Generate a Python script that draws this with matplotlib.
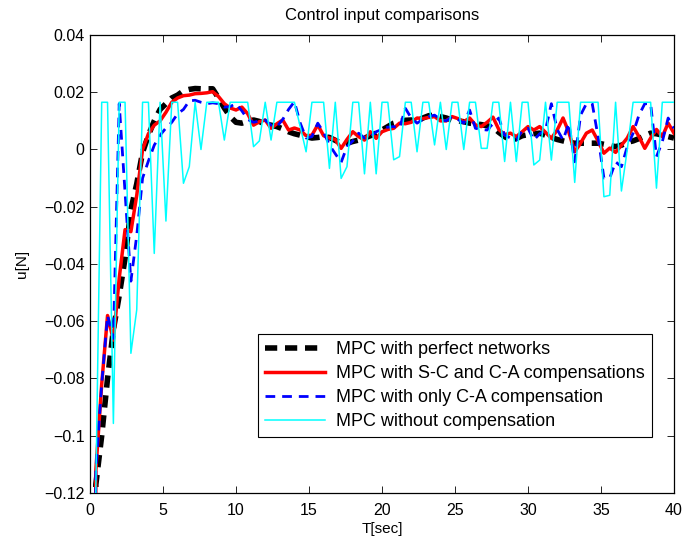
import numpy as np
import matplotlib
matplotlib.use("Agg")
import matplotlib.pyplot as plt

plt.rcParams['font.family'] = ['Liberation Sans', 'DejaVu Sans']

# ----------------------------------------------------------------------
# DATA (sample time 0.4 s)
# ----------------------------------------------------------------------
t = np.arange(101) * 0.4

u_perfect = [
    -0.45, -0.117, -0.100, -0.080, -0.063, -0.051, -0.038, -0.021, -0.012, -0.001,
    0.005, 0.010, 0.014, 0.016, 0.018, 0.019, 0.0205, 0.021, 0.0213, 0.0212,
    0.0212, 0.0212, 0.018, 0.0145, 0.0115, 0.0095, 0.0092, 0.0098, 0.0103, 0.0098,
    0.0088, 0.0085, 0.0080, 0.0072, 0.0062, 0.0055, 0.0050, 0.0045, 0.0040, 0.0042,
    0.0045, 0.0042, 0.0032, 0.0022, 0.0022, 0.0028, 0.0033, 0.0040, 0.0048, 0.0057,
    0.0068, 0.0080, 0.0092, 0.0098, 0.0102, 0.0103, 0.0100, 0.0110, 0.0118, 0.0120,
    0.0115, 0.0110, 0.0103, 0.0100, 0.0097, 0.0092, 0.0090, 0.0087, 0.0083, 0.0078,
    0.0060, 0.0045, 0.0033, 0.0038, 0.0048, 0.0052, 0.0055, 0.0057, 0.0050, 0.0042,
    0.0035, 0.0030, 0.0025, 0.0022, 0.0022, 0.0022, 0.0022, 0.0022, 0.0018, 0.0014,
    0.0010, 0.0015, 0.0025, 0.0030, 0.0038, 0.0048, 0.0057, 0.0055, 0.0050, 0.0045,
    0.0040,
]

u_sc_ca = [
    -0.45, -0.112, -0.082, -0.058, -0.0666, -0.045, -0.028, -0.0287, -0.016, 0.000,
    0.0055, 0.0085, 0.010, 0.013, 0.0165, 0.018, 0.0188, 0.019, 0.0195, 0.0196,
    0.0198, 0.0202, 0.0185, 0.0160, 0.0145, 0.0138, 0.0148, 0.0125, 0.0085, 0.0097,
    0.0103, 0.0074, 0.0090, 0.0103, 0.0068, 0.0075, 0.0068, 0.0048, 0.0050, 0.0086,
    0.0048, 0.0040, 0.0035, 0.0004, 0.0035, 0.0062, 0.0045, 0.0033, 0.0062, 0.0039,
    0.0062, 0.0070, 0.0074, 0.0092, 0.0090, 0.0095, 0.0110, 0.0108, 0.0112, 0.0115,
    0.0100, 0.0100, 0.0115, 0.0108, 0.0097, 0.0110, 0.0086, 0.0080, 0.0095, 0.0113,
    0.0070, 0.0052, 0.0057, 0.0045, 0.0062, 0.0080, 0.0068, 0.0080, 0.0060, 0.0039,
    0.0068, 0.0110, 0.0060, -0.0008, 0.0022, 0.0057, 0.0068, 0.0030, -0.0013, 0.0005,
    -0.0010, 0.0015, 0.0040, 0.0080, 0.0045, 0.0004, 0.0040, 0.0070, 0.0045, 0.0092,
    0.0057,
]

u_ca_only = [
    -0.45, -0.112, -0.082, -0.058, -0.066, 0.0160, -0.015, -0.046, -0.030, -0.010,
    -0.004, 0.0015, 0.005, 0.0075, 0.0095, 0.0125, 0.0140, 0.0170, 0.0172, 0.0165,
    0.0160, 0.0163, 0.0160, 0.0148, 0.0150, 0.0160, 0.0135, 0.0105, 0.0095, 0.0100,
    0.0103, 0.0085, 0.0080, 0.0105, 0.0140, 0.0167, 0.0092, 0.0040, 0.0045, 0.0092,
    0.0060, 0.0016, -0.0015, -0.0045, 0.0010, 0.0030, 0.0057, 0.0040, 0.0045, 0.0062,
    0.0070, 0.0078, 0.0080, 0.0074, 0.0144, 0.0110, 0.0092, 0.0105, 0.0115, 0.0120,
    0.0105, 0.0100, 0.0115, 0.0105, 0.0092, 0.0138, 0.0074, 0.0070, 0.0068, 0.0090,
    0.0110, 0.0050, 0.0040, 0.0033, 0.0065, 0.0074, 0.0033, 0.0055, 0.0068, 0.0160,
    0.0070, 0.0033, 0.0092, -0.0043, 0.0120, 0.0160, 0.0160, 0.0045, -0.0100, -0.0100,
    -0.0043, -0.0060, 0.0010, 0.0057, 0.0120, 0.0160, 0.0160, -0.0025, 0.0027, 0.0110,
    0.0074,
]

u_no_comp = [
    -0.45, -0.118, 0.0165, 0.0165, -0.0957, 0.0165, 0.0165, -0.0712, -0.056, 0.0165,
    0.0165, -0.0363, 0.0165, -0.0250, 0.0165, 0.0165, -0.0118, -0.0060, 0.0165, 0.0000,
    0.0165, 0.0165, 0.0165, 0.0033, 0.0165, 0.0165, 0.0165, 0.0165, 0.0010, 0.0030,
    0.0165, 0.0033, 0.0165, 0.0165, 0.0165, 0.0165, 0.0080, -0.0008, 0.0165, 0.0165,
    0.0165, -0.0066, 0.0165, -0.0101, -0.0060, 0.0165, 0.0165, -0.0085, 0.0165, -0.0085,
    0.0165, 0.0165, -0.0036, -0.0025, 0.0165, 0.0165, -0.0008, 0.0165, 0.0165, 0.0016,
    0.0165, 0.0000, 0.0165, 0.0165, 0.0000, 0.0165, 0.0165, 0.0004, 0.0004, 0.0165,
    0.0165, -0.0042, 0.0165, -0.0042, 0.0165, 0.0165, -0.0054, -0.0037, 0.0165, -0.0037,
    0.0165, 0.0165, 0.0165, -0.0115, 0.0165, 0.0165, 0.0165, 0.0165, -0.0165, -0.0160,
    0.0165, -0.0145, 0.0000, 0.0165, 0.0165, 0.0165, 0.0165, -0.0135, 0.0165, 0.0165,
    0.0165,
]

labels = [
    "MPC with perfect networks",
    "MPC with S-C and C-A compensations",
    "MPC with only C-A compensation",
    "MPC without compensation",
]

xticks = [0, 5, 10, 15, 20, 25, 30, 35, 40]
yticks = [-0.12, -0.1, -0.08, -0.06, -0.04, -0.02, 0, 0.02, 0.04]
ytick_labels = ["\u22120.12", "\u22120.1", "\u22120.08", "\u22120.06", "\u22120.04",
                "\u22120.02", "0", "0.02", "0.04"]

# ----------------------------------------------------------------------
# PLOT
# ----------------------------------------------------------------------
fig = plt.figure(figsize=(6.83, 5.46), dpi=100)
ax = fig.add_axes([0.1318, 0.0971, 0.855, 0.8388])

ax.plot(t, u_perfect, color="black", lw=4.0, ls=(0, (2.2, 1.4)), label=labels[0], zorder=2)
ax.plot(t, u_sc_ca, color="#ff0000", lw=2.5, label=labels[1], zorder=3)
ax.plot(t, u_ca_only, color="#0000ff", lw=2.0, ls=(0, (3.5, 2.5)), label=labels[2], zorder=4)
ax.plot(t, u_no_comp, color="#00ffff", lw=1.1, label=labels[3], zorder=5)

ax.set_xlim(0, 40)
ax.set_ylim(-0.12, 0.04)
ax.set_xticks(xticks)
ax.set_yticks(yticks)
ax.set_yticklabels(ytick_labels)
ax.tick_params(direction="in", top=True, right=True, labelsize=11.5, length=5, width=0.6)
ax.tick_params(axis="y", pad=4)
ax.tick_params(axis="x", pad=7)
for s in ax.spines.values():
    s.set_linewidth(0.9)

ax.set_xlabel("T[sec]", fontsize=11, labelpad=3)
ax.set_ylabel("u[N]", fontsize=11, labelpad=11)
ax.set_title("Control input comparisons", fontsize=12, pad=11)

leg = ax.legend(loc="lower right", bbox_to_anchor=(0.962, 0.122), fontsize=13,
                frameon=True, fancybox=False, framealpha=1, edgecolor="black",
                handlelength=3.3, borderpad=0.4, labelspacing=0.38, handletextpad=0.6,
                borderaxespad=0)
leg.get_frame().set_linewidth(0.8)

plt.savefig("out.png", dpi=100)
